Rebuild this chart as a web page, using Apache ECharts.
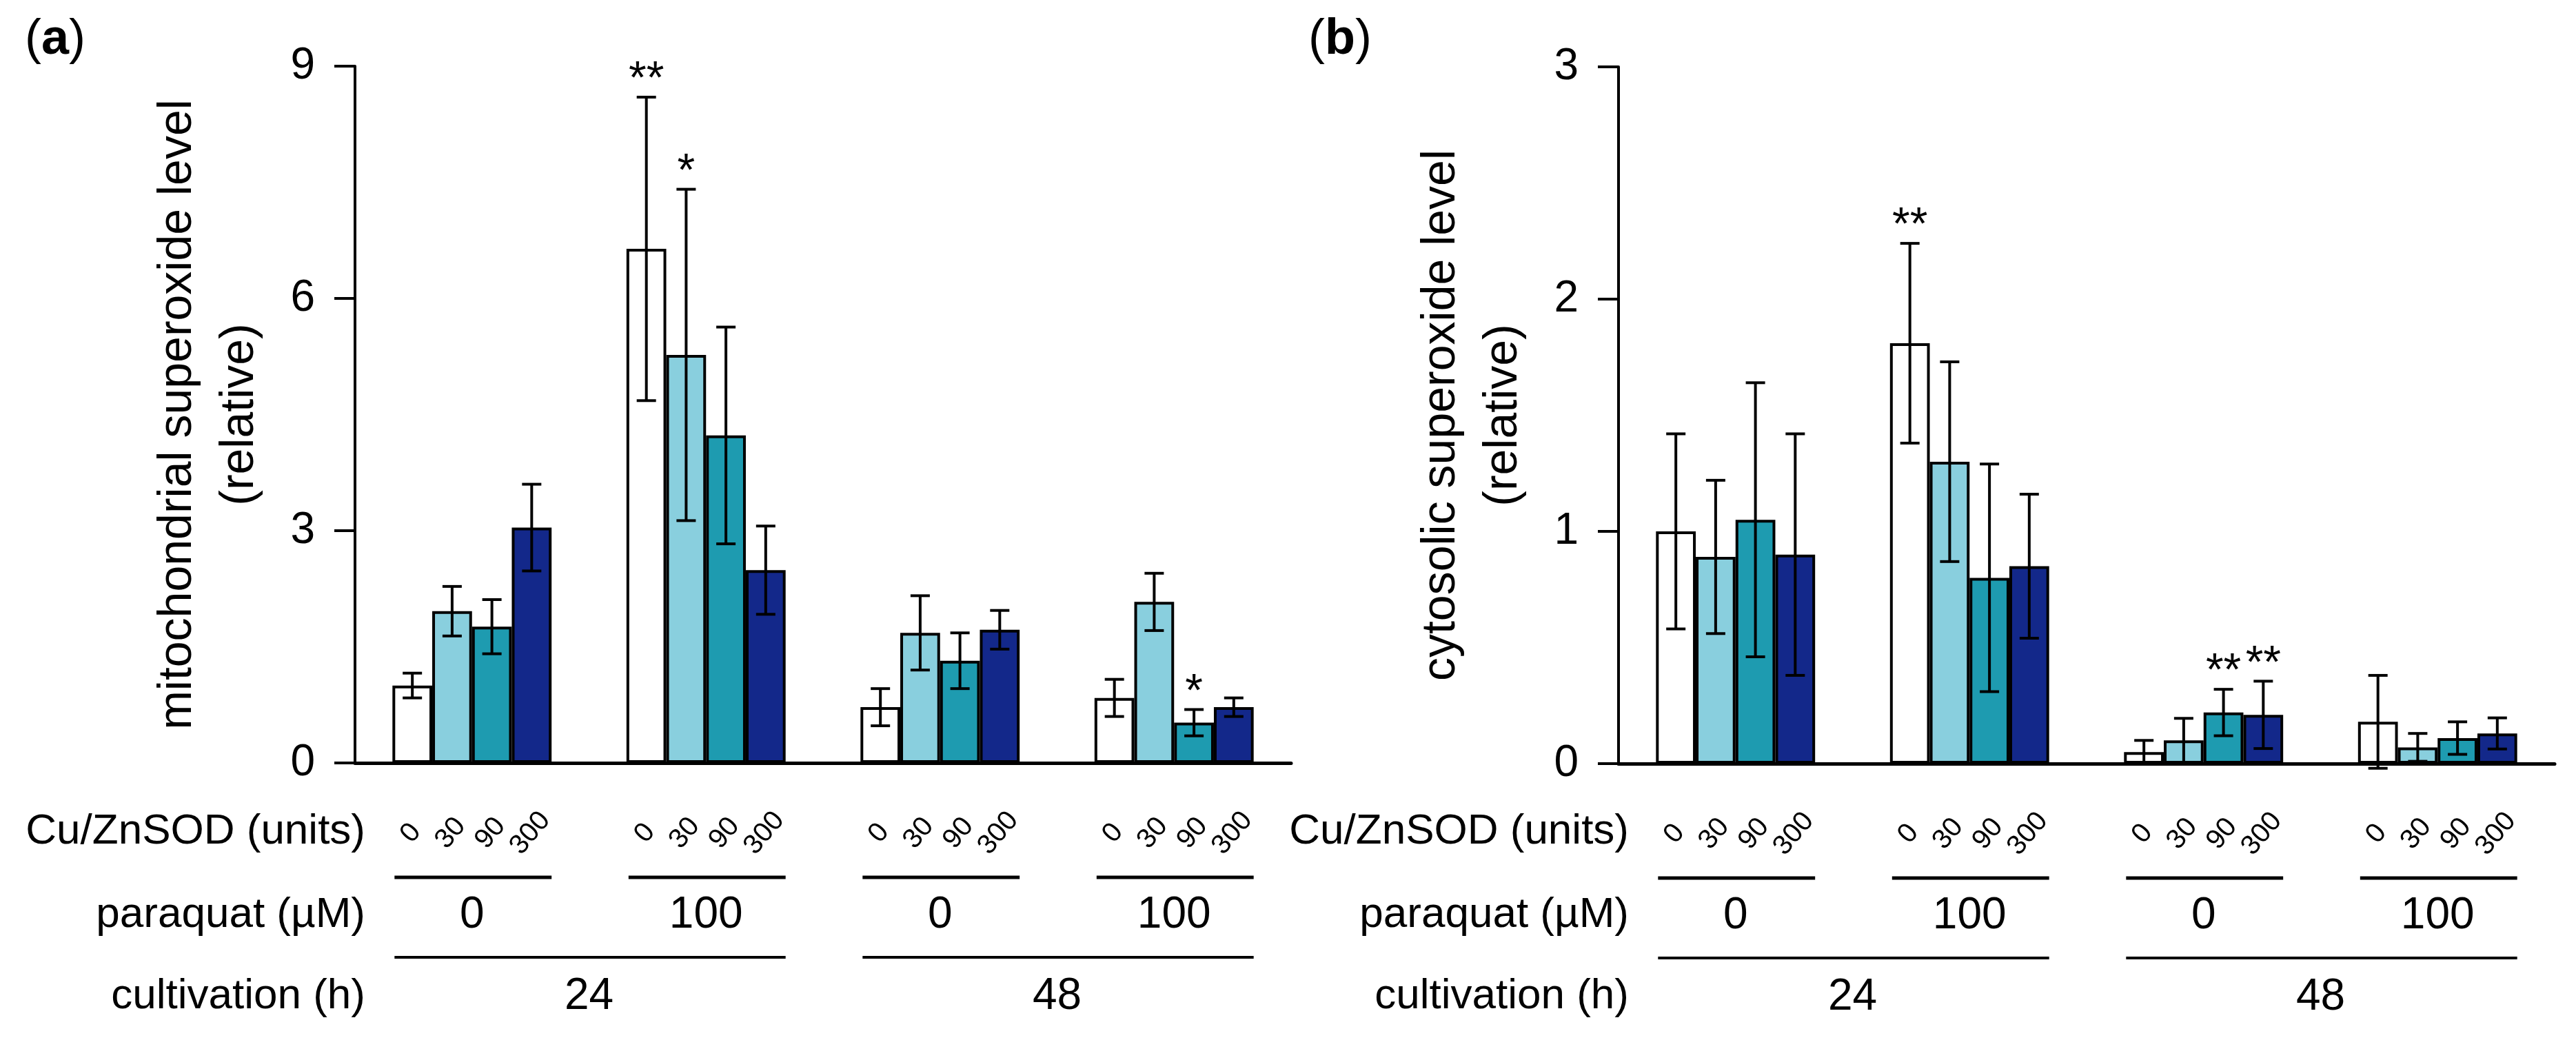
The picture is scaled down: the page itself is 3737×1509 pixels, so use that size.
<!DOCTYPE html>
<html>
<head>
<meta charset="utf-8">
<title>Superoxide levels</title>
<script src="https://cdn.jsdelivr.net/npm/echarts@6.0.0/dist/echarts.min.js"></script>
<style>
  html, body { margin: 0; padding: 0; background: #fff; }
  #chart { width: 3737px; height: 1509px; }
</style>
</head>
<body>
<div id="chart"></div>
<script>
// categories
const paraquat = ["0", "100", "0", "100"];
const cultivation = ["24", "48"];
const doses = ["0", "30", "90", "300"];

// (a) mitochondrial superoxide, one array per Cu/ZnSOD dose
const mito0 = [1.00, 6.64, 0.72, 0.84];
const mito30 = [1.96, 5.27, 1.68, 2.08];
const mito90 = [1.76, 4.23, 1.32, 0.52];
const mito300 = [3.04, 2.49, 1.72, 0.72];
const mitoErr0 = [0.16, 1.96, 0.24, 0.24];
const mitoErr30 = [0.32, 2.14, 0.48, 0.37];
const mitoErr90 = [0.35, 1.40, 0.36, 0.17];
const mitoErr300 = [0.56, 0.57, 0.25, 0.12];
const mitoStar0 = ["", "**", "", ""];
const mitoStar30 = ["", "*", "", ""];
const mitoStar90 = ["", "", "", "*"];
const mitoStar300 = ["", "", "", ""];
const mitoTicks = [0, 3, 6, 9];

// (b) cytosolic superoxide
const cyto0 = [1.00, 1.81, 0.05, 0.18];
const cyto30 = [0.89, 1.30, 0.10, 0.07];
const cyto90 = [1.05, 0.80, 0.22, 0.11];
const cyto300 = [0.90, 0.85, 0.21, 0.13];
const cytoErr0 = [0.42, 0.43, 0.05, 0.20];
const cytoErr30 = [0.33, 0.43, 0.095, 0.06];
const cytoErr90 = [0.59, 0.49, 0.10, 0.07];
const cytoErr300 = [0.52, 0.31, 0.145, 0.067];
const cytoStar0 = ["", "**", "", ""];
const cytoStar30 = ["", "", "", ""];
const cytoStar90 = ["", "", "**", ""];
const cytoStar300 = ["", "", "**", ""];
const cytoTicks = [0, 1, 2, 3];

const FONT = "'Liberation Sans', Arial, sans-serif";
const COLORS = ["#ffffff", "#89cfde", "#1e9bb0", "#13288a"];
const CAT_GAP = 0.32;

const chart = echarts.init(document.getElementById("chart"), null, { renderer: "canvas" });

function errorItem(k, stars) {
  return function (params, api) {
    const cat = api.value(0), mean = api.value(1), err = api.value(2);
    const band = api.size([1, 0])[0];
    const bw = band * (1 - CAT_GAP) / 4;
    const base = api.coord([cat, 0]);
    const x = base[0] + (k - 1.5) * bw;
    const hi = api.coord([cat, mean + err])[1];
    const lo = api.coord([cat, mean - err])[1];
    const cap = 14;
    const ls = { stroke: "#000", lineWidth: 4 };
    const kids = [
      { type: "line", shape: { x1: x, y1: hi, x2: x, y2: lo }, style: ls },
      { type: "line", shape: { x1: x - cap, y1: hi, x2: x + cap, y2: hi }, style: ls },
      { type: "line", shape: { x1: x - cap, y1: lo, x2: x + cap, y2: lo }, style: ls },
      {
        type: "text", x: x - 2, y: base[1] + 102, rotation: Math.PI * 50 / 180,
        style: { text: doses[k], font: "40px " + FONT, fill: "#000", align: "center", verticalAlign: "middle" },
      },
    ];
    const s = stars[params.dataIndex];
    if (s) {
      kids.push({
        type: "text", x: x, y: hi - 24,
        style: { text: s, font: "66px " + FONT, fill: "#000", align: "center", verticalAlign: "middle" },
      });
    }
    return { type: "group", children: kids };
  };
}

function bracketItem(params, api) {
  const cat = api.value(0);
  const band = api.size([1, 0])[0];
  const half = band * (1 - CAT_GAP) / 2;
  const base = api.coord([cat, 0]);
  const kids = [{
    type: "line",
    shape: { x1: base[0] - half + 3, y1: base[1] + 166, x2: base[0] + half, y2: base[1] + 166 },
    style: { stroke: "#000", lineWidth: 5 },
  }];
  if (cat % 2 === 0) {
    kids.push({
      type: "line",
      shape: { x1: base[0] - half + 3, y1: base[1] + 282, x2: base[0] + band + half, y2: base[1] + 282 },
      style: { stroke: "#000", lineWidth: 4 },
    });
  }
  return { type: "group", children: kids };
}

function panelSeries(p, means, errs, stars) {
  const out = [];
  means.forEach(function (vals, k) {
    out.push({
      type: "bar", name: doses[k], xAxisIndex: p * 2, yAxisIndex: p, data: vals,
      barGap: "0%", barCategoryGap: (CAT_GAP * 100) + "%",
      itemStyle: { color: COLORS[k], borderColor: "#000", borderWidth: 4 },
      z: 2,
    });
  });
  means.forEach(function (vals, k) {
    out.push({
      type: "custom", xAxisIndex: p * 2, yAxisIndex: p, clip: false, z: 3,
      data: vals.map(function (v, i) { return [i, v, errs[k][i]]; }),
      renderItem: errorItem(k, stars[k]),
    });
  });
  out.push({
    type: "custom", xAxisIndex: p * 2, yAxisIndex: p, clip: false, z: 3,
    data: paraquat.map(function (_, i) { return [i, 0]; }),
    renderItem: bracketItem,
  });
  return out;
}

function yAxis(p, ticks, title) {
  return {
    type: "value", gridIndex: p,
    min: ticks[0], max: ticks[ticks.length - 1], interval: ticks[1] - ticks[0],
    axisLine: { show: true, lineStyle: { color: "#000", width: 4 } },
    axisTick: { show: true, inside: false, length: 30, lineStyle: { color: "#000", width: 4 } },
    splitLine: { show: false },
    axisLabel: { color: "#000", fontSize: 64, fontFamily: FONT, margin: 58 },
    name: title, nameLocation: "middle", nameRotate: 90, nameGap: 122,
    nameTextStyle: { color: "#000", fontSize: 68, fontFamily: FONT, lineHeight: 90 },
  };
}

function xAxes(p) {
  return [
    {
      type: "category", gridIndex: p, position: "bottom", data: paraquat,
      axisLine: { show: true, onZero: false, lineStyle: { color: "#000", width: 5 } },
      axisTick: { show: false },
      axisLabel: { color: "#000", fontSize: 64, fontFamily: FONT, margin: 189 },
    },
    {
      type: "category", gridIndex: p, position: "bottom", data: cultivation,
      axisLine: { show: false }, axisTick: { show: false },
      axisLabel: { color: "#000", fontSize: 64, fontFamily: FONT, margin: 307 },
    },
  ];
}

function rowLabels(right) {
  return [
    ["Cu/ZnSOD (units)", 1207], ["paraquat (\u00b5M)", 1328], ["cultivation (h)", 1446],
  ].map(function (r) {
    return {
      type: "text", x: right, y: r[1],
      style: { text: r[0], font: "62px " + FONT, fill: "#000", align: "right", verticalAlign: "middle" },
    };
  });
}

function panelTag(x, letter) {
  return {
    type: "text", x: x, y: 22,
    style: {
      text: "{p|(}{b|" + letter + "}{p|)}", fill: "#000", verticalAlign: "top",
      rich: {
        p: { fontSize: 72, fontFamily: FONT, fill: "#000" },
        b: { fontSize: 72, fontFamily: FONT, fontWeight: "bold", fill: "#000" },
      },
    },
  };
}

chart.setOption({
  animation: false,
  backgroundColor: "#fff",
  grid: [
    { left: 515, top: 96, width: 1358, height: 1011 },
    { left: 2348, top: 97, width: 1358, height: 1011 },
  ],
  xAxis: xAxes(0).concat(xAxes(1)),
  yAxis: [
    yAxis(0, mitoTicks, "mitochondrial superoxide level\n(relative)"),
    yAxis(1, cytoTicks, "cytosolic superoxide level\n(relative)"),
  ],
  series: panelSeries(0,
      [mito0, mito30, mito90, mito300],
      [mitoErr0, mitoErr30, mitoErr90, mitoErr300],
      [mitoStar0, mitoStar30, mitoStar90, mitoStar300])
    .concat(panelSeries(1,
      [cyto0, cyto30, cyto90, cyto300],
      [cytoErr0, cytoErr30, cytoErr90, cytoErr300],
      [cytoStar0, cytoStar30, cytoStar90, cytoStar300])),
  graphic: rowLabels(530).concat(rowLabels(2363)).concat([panelTag(36, "a"), panelTag(1898, "b")]),
});
</script>
</body>
</html>
